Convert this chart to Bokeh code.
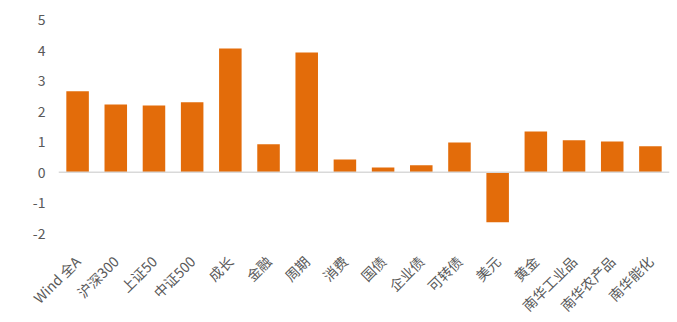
import math
from bokeh.plotting import figure
from bokeh.models import Range1d, FactorRange, Span, ColumnDataSource, FixedTicker, PrintfTickFormatter
from bokeh.embed import file_html
from bokeh.resources import INLINE

categories = ["Wind 全A", "沪深300", "上证50", "中证500", "成长", "金融", "周期", "消费",
              "国债", "企业债", "可转债", "美元", "黄金", "南华工业品", "南华农产品", "南华能化"]
values = [2.65, 2.22, 2.19, 2.29, 4.05, 0.92, 3.92, 0.42,
          0.16, 0.23, 0.98, -1.63, 1.34, 1.05, 1.01, 0.85]
y_ticks = [-2, -1, 0, 1, 2, 3, 4, 5]

FONT = "Noto Sans CJK SC"
TEXT = "#595959"

src = ColumnDataSource(dict(cat=categories, val=values))

p = figure(frame_width=611, frame_height=214, x_range=FactorRange(*categories, range_padding=0),
           y_range=Range1d(-2, 5), output_backend="svg", toolbar_location=None,
           min_border_left=58, min_border_right=8, min_border_top=19, min_border_bottom=0)
p.outline_line_color = None
p.grid.grid_line_color = None
p.background_fill_color = "white"
p.border_fill_color = "white"

p.vbar(x="cat", top="val", bottom=0, width=0.59, source=src,
       fill_color="#E36C0A", line_color=None)
p.add_layout(Span(location=0, dimension="width", line_color="#D9D9D9", line_width=1.5))

p.yaxis.ticker = FixedTicker(ticks=y_ticks)
p.yaxis.formatter = PrintfTickFormatter(format="%d")
p.yaxis.axis_line_color = None
p.yaxis.major_tick_line_color = None
p.yaxis.minor_tick_line_color = None
p.yaxis.major_label_text_font = FONT
p.yaxis.major_label_text_font_size = "14px"
p.yaxis.major_label_text_color = TEXT
p.yaxis.major_label_standoff = 7

p.xaxis.axis_line_color = None
p.xaxis.major_tick_line_color = None
p.xaxis.minor_tick_line_color = None
p.xaxis.major_label_orientation = math.pi / 4
p.xaxis.major_label_text_font = FONT
p.xaxis.major_label_text_font_size = "14px"
p.xaxis.major_label_text_color = TEXT
p.xaxis.major_label_standoff = 19

open("out.html", "w").write(file_html(p, INLINE))
